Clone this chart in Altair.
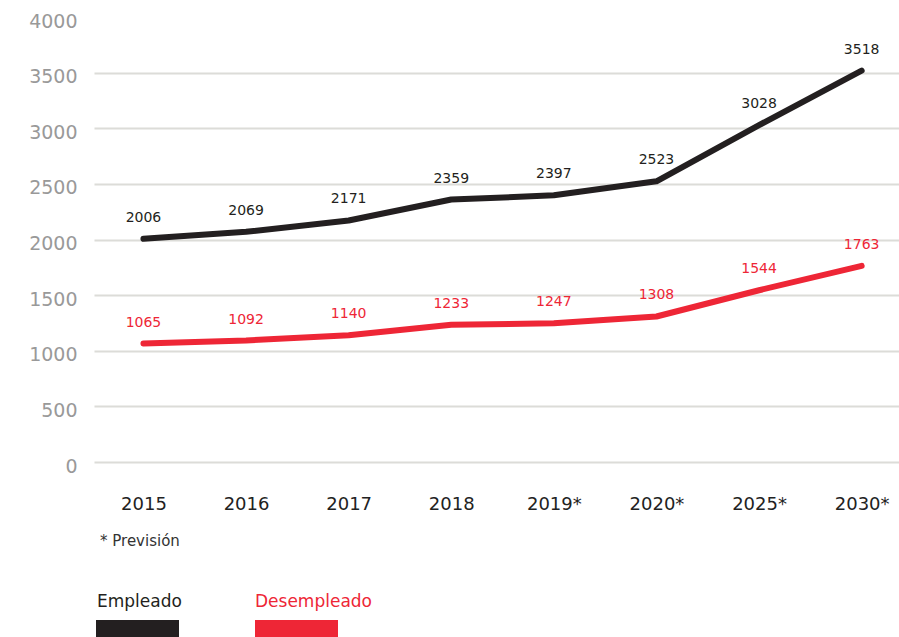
import json
import altair as alt
import pandas as pd

# ---- data ----
years = ["2015", "2016", "2017", "2018", "2019*", "2020*", "2025*", "2030*"]
empleado = [2006, 2069, 2171, 2359, 2397, 2523, 3028, 3518]
desempleado = [1065, 1092, 1140, 1233, 1247, 1308, 1544, 1763]
y_ticks = [0, 500, 1000, 1500, 2000, 2500, 3000, 3500, 4000]
series_names = ["Empleado", "Desempleado"]
series_colors = ["#231F20", "#EE2636"]
note = "* Previsión"

FONT = "DejaVu Sans"

rows = []
for i, yr in enumerate(years):
    rows.append({"idx": i, "year": yr, "serie": series_names[0], "valor": empleado[i]})
    rows.append({"idx": i, "year": yr, "serie": series_names[1], "valor": desempleado[i]})
df = pd.DataFrame(rows)

color_scale = alt.Scale(domain=series_names, range=series_colors)
label_expr = json.dumps(years) + "[datum.value]"

x_enc = alt.X(
    "idx:Q",
    scale=alt.Scale(domain=[-0.482, 7.364], nice=False, zero=False),
    axis=alt.Axis(
        values=list(range(len(years))),
        labelExpr=label_expr,
        grid=False,
        domain=False,
        ticks=False,
        labelFlush=False,
        labelPadding=33,
        labelFontSize=18,
        labelColor="#222222",
        labelFont=FONT,
        title=None,
    ),
)
y_enc = alt.Y(
    "valor:Q",
    scale=alt.Scale(domain=[0, 4000], nice=False),
    axis=alt.Axis(
        values=y_ticks,
        format="d",
        domain=False,
        ticks=False,
        labelPadding=17,
        labelOffset=4,
        labelFontSize=19,
        labelColor="#999999",
        labelFont=FONT,
        gridColor="#dcdcd8",
        gridWidth=2,
        gridOpacity={"condition": {"test": "datum.value === 4000", "value": 0}, "value": 1},
        title=None,
    ),
)

base = alt.Chart(df)

lines = base.mark_line(strokeWidth=6, strokeCap="round", strokeJoin="round").encode(
    x=x_enc,
    y=y_enc,
    color=alt.Color("serie:N", scale=color_scale, legend=None),
    detail="serie:N",
)

labels = base.mark_text(dy=-21, fontSize=14, font=FONT).encode(
    x="idx:Q",
    y="valor:Q",
    text="valor:Q",
    color=alt.Color("serie:N", scale=color_scale, legend=None),
)

# footnote
note_layer = alt.Chart(pd.DataFrame({"t": [note]})).mark_text(
    align="left", baseline="middle", fontSize=15, font=FONT, color="#333333"
).encode(x=alt.value(6), y=alt.value(524), text="t:N")

# manual legend (label above a colour swatch)
leg_df = pd.DataFrame({"serie": series_names})
leg_pos = [(3, 2, 85), (161, 161, 244)]
legend_layers = []
for name, (tx, rx1, rx2) in zip(series_names, leg_pos):
    d = leg_df[leg_df["serie"] == name]
    legend_layers.append(
        alt.Chart(d).mark_text(align="left", baseline="alphabetic", fontSize=17, font=FONT).encode(
            x=alt.value(tx), y=alt.value(590), text="serie:N",
            color=alt.Color("serie:N", scale=color_scale, legend=None),
        )
    )
    legend_layers.append(
        alt.Chart(d).mark_rect().encode(
            x=alt.value(rx1), x2=alt.value(rx2), y=alt.value(603), y2=alt.value(630),
            color=alt.Color("serie:N", scale=color_scale, legend=None),
        )
    )

chart = alt.layer(lines, labels, note_layer, *legend_layers).properties(
    width=805,
    height=445,
    autosize=alt.AutoSizeParams(type="none"),
    padding={"left": 94, "top": 17, "right": 0, "bottom": 175},
    background="white",
).configure_view(stroke=None)

chart.save("out.html", embed_options={"renderer": "svg", "actions": False})
